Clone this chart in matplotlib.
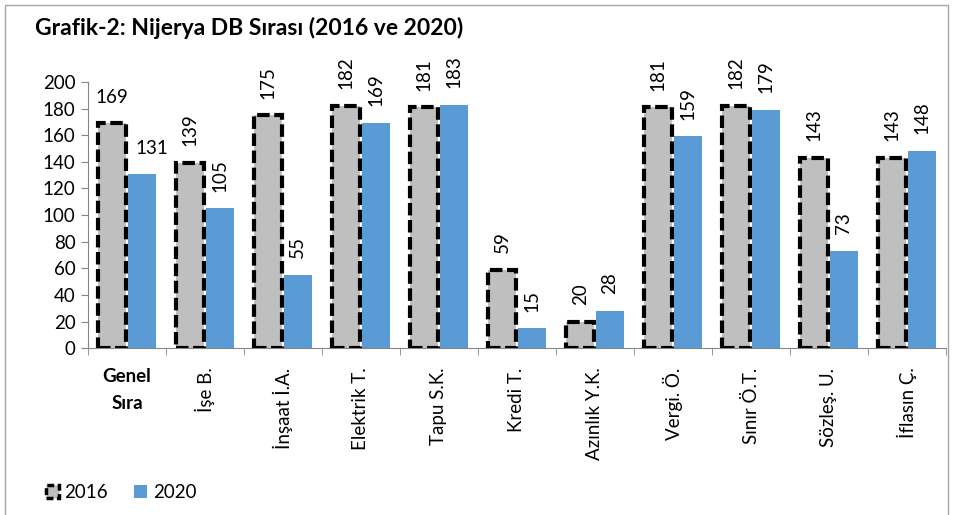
import numpy as np
import matplotlib.pyplot as plt
from matplotlib.patches import Patch, Rectangle

plt.rcParams['font.family'] = ['Lato', 'DejaVu Sans']

# data
kategori = ['Genel\nSıra', 'İşe B.', 'İnşaat İ.A.', 'Elektrik T.', 'Tapu S.K.', 'Kredi T.',
            'Azınlık Y.K.', 'Vergi. Ö.', 'Sınır Ö.T.', 'Sözleş. U.', 'İflasın Ç.']
sira_2016 = [169, 139, 175, 182, 181, 59, 20, 181, 182, 143, 143]
sira_2020 = [131, 105, 55, 169, 183, 15, 28, 159, 179, 73, 148]
yil = ['2016', '2020']

gri = '#BFBFBF'
mavi = '#5B9BD5'
eksen_renk = '#868686'

fig = plt.figure(figsize=(9.56, 5.15), dpi=100)
ax = fig.add_axes([0.092, 0.324, 0.8975, 0.517])

x = np.arange(len(kategori))
w = 0.36
b1 = ax.bar(x - 0.19, sira_2016, w, color=gri, edgecolor='black', linewidth=3,
            linestyle=(0, (3, 1.1)), zorder=3)
b2 = ax.bar(x + 0.19, sira_2020, w, color=mavi, zorder=3)

# deger etiketleri - ilk kategori yatay, digerleri dikey
for k, bars in enumerate((b1, b2)):
    for i, r in enumerate(bars):
        rot = 0 if i == 0 else 90
        dx = 7 if (i == 0 and k == 1) else 0
        ax.annotate(str(int(r.get_height())), (r.get_x() + r.get_width() / 2, r.get_height()),
                    xytext=(dx, 12), textcoords='offset points', ha='center', va='bottom',
                    rotation=rot, fontsize=13.5, color='black')

ax.set_xlim(-0.5, len(kategori) - 0.5)
ax.set_ylim(0, 200)
ax.set_yticks(range(0, 201, 20))
ax.tick_params(axis='y', labelsize=13.5, length=5, color=eksen_renk, pad=4)

ax.set_xticks(x)
ax.set_xticklabels(kategori)
ax.set_xticks(np.arange(-0.5, len(kategori)), minor=True)
ax.tick_params(axis='x', which='major', length=0, pad=14)
ax.tick_params(axis='x', which='minor', length=5, color=eksen_renk)
for i, t in enumerate(ax.get_xticklabels()):
    if i == 0:
        t.set_fontweight('bold')
        t.set_fontsize(13.5)
        t.set_va('top')
        t.set_linespacing(1.75)
    else:
        t.set_rotation(90)
        t.set_fontsize(13.5)

for s in ['top', 'right']:
    ax.spines[s].set_visible(False)
for s in ['left', 'bottom']:
    ax.spines[s].set_color(eksen_renk)

fig.text(0.037, 0.946, 'Grafik-2: Nijerya DB Sırası (2016 ve 2020)', fontsize=16.5,
         fontweight='bold', va='center', ha='left')

# cerceve
fig.patches.append(Rectangle((0.005, -0.02), 0.987, 1.0103, transform=fig.transFigure,
                             fill=False, edgecolor='#A6A6A6', linewidth=1))

handles = [Patch(facecolor=gri, edgecolor='black', linewidth=2.5, linestyle=(0, (2, 1))),
           Patch(facecolor=mavi)]
fig.legend(handles, yil, loc='lower left', bbox_to_anchor=(0.03, -0.005), ncol=2, frameon=False,
           fontsize=13.5, handlelength=0.7, handleheight=0.7, handletextpad=0.3, columnspacing=1.4)

fig.savefig('out.png', dpi=100)
